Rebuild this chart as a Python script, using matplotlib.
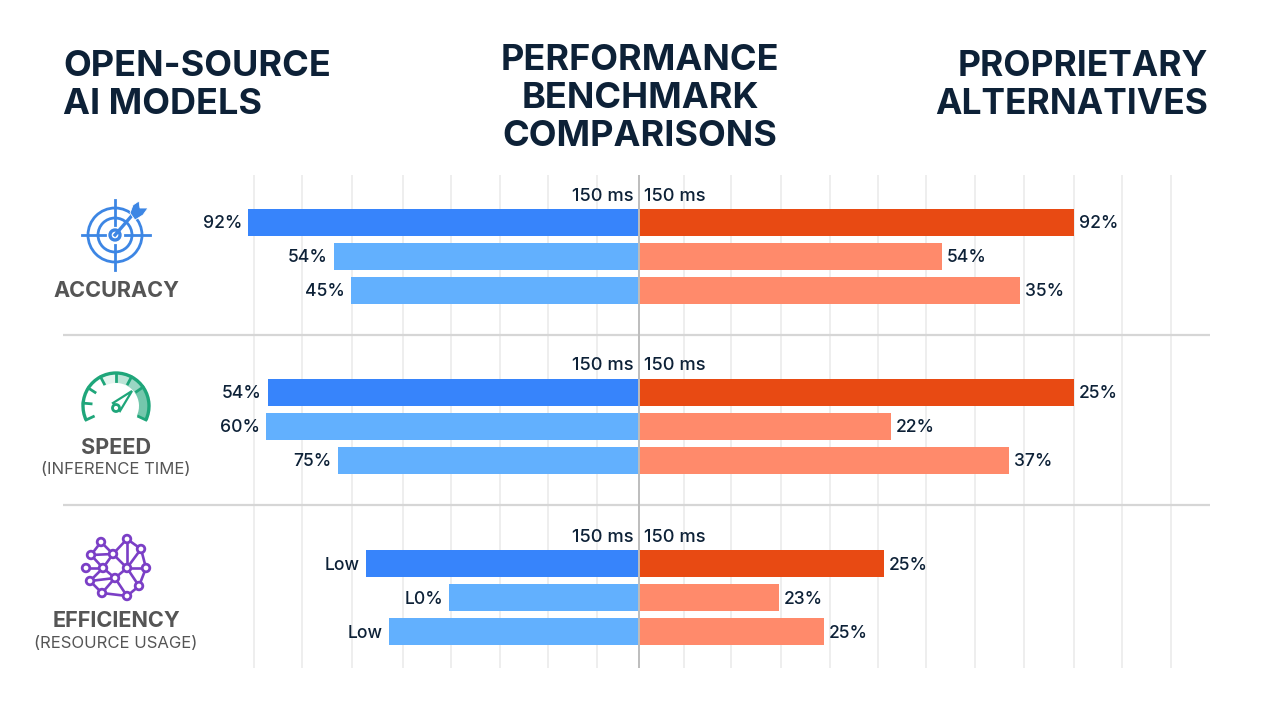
import numpy as np
import matplotlib
matplotlib.use("Agg")
import matplotlib.pyplot as plt
from matplotlib.patches import Circle, Wedge, Arc, Polygon

plt.rcParams['font.family'] = ['Inter', 'DejaVu Sans']

# ---- data (bar lengths, labels as printed) ----
left_len = [391, 305, 288, 371, 373, 301, 273, 190, 250]
right_len = [434, 302, 380, 434, 251, 369, 244, 139, 184]
left_lab = ["92%", "54%", "45%", "54%", "60%", "75%", "Low", "L0%", "Low"]
right_lab = ["92%", "54%", "35%", "25%", "22%", "37%", "25%", "23%", "25%"]
bar_y = [222.5, 256.5, 290.5, 392, 426, 460, 563.5, 597.5, 631.5]
head_y = [195, 364, 536]
head_lab = "150 ms"
left_cols = ["#3784fb", "#62b0fe", "#62b0fe"] * 3
right_cols = ["#e84a13", "#ff8a6b", "#ff8a6b"] * 3
grid_x = [254, 302, 352, 403, 451, 500, 548, 597, 684, 731, 781, 830, 878, 926, 975, 1024, 1074, 1122, 1171]
sep_y = [335, 505]
CX = 639
NAVY = "#0d2137"
GREY = "#555555"

fig = plt.figure(figsize=(12.8, 7.2), dpi=100, facecolor="white")
ax = fig.add_axes([0, 0, 1, 1])
ax.set_xlim(0, 1280)
ax.set_ylim(720, 0)
ax.axis("off")

# grid
ax.vlines(grid_x, 175, 668, color="#ebebeb", lw=1.2, zorder=1)
ax.hlines(sep_y, 63, 1210, color="#d6d6d6", lw=1.6, zorder=1)

# bars
ax.barh(bar_y, [-v for v in left_len], height=27, left=CX, color=left_cols, zorder=2)
ax.barh(bar_y, [v + 1 for v in right_len], height=27, left=CX, color=right_cols, zorder=2)
ax.vlines([CX], 175, 668, color="#bdbdbd", lw=1.4, zorder=3)

# labels
lkw = dict(va="center", fontsize=12.6, color=NAVY, fontweight="medium", zorder=4)
for y, ll, rl, a, b in zip(bar_y, left_len, right_len, left_lab, right_lab):
    ax.text(CX - ll - 6, y + 1.5, a, ha="right", **lkw)
    ax.text(CX + rl + 6, y + 1.5, b, ha="left", **lkw)
hkw = dict(lkw, fontsize=13.2)
for y in head_y:
    ax.text(CX - 5, y + 1.5, head_lab, ha="right", **hkw)
    ax.text(CX + 5, y + 1.5, head_lab, ha="left", **hkw)

# titles
tkw = dict(fontsize=26, fontweight="bold", color=NAVY, va="center")
ax.text(63, 67, "OPEN-SOURCE", ha="left", **tkw)
ax.text(63, 105, "AI MODELS", ha="left", **tkw)
ax.text(640, 61, "PERFORMANCE", ha="center", **tkw)
ax.text(640, 98, "BENCHMARK", ha="center", **tkw)
ax.text(640, 136, "COMPARISONS", ha="center", **tkw)
rkw = dict(tkw, fontsize=25.5)
ax.text(1208, 67, "PROPRIETARY", ha="right", **rkw)
ax.text(1208, 105, "ALTERNATIVES", ha="right", **rkw)

# category labels
ckw = dict(fontsize=15.6, fontweight="bold", color=GREY, ha="center", va="center")
skw = dict(fontsize=12, color=GREY, ha="center", va="center")
ax.text(116, 291, "ACCURACY", **ckw)
ax.text(116, 448, "SPEED", **ckw)
ax.text(116, 470, "(INFERENCE TIME)", **skw)
ax.text(116, 621, "EFFICIENCY", **ckw)
ax.text(116, 644, "(RESOURCE USAGE)", **skw)

# accuracy icon
B = "#3d86e4"
for r, lw in [(27, 2), (17, 2), (5, 2.4)]:
    ax.add_patch(Circle((115, 235), r, fill=False, ec=B, lw=lw, zorder=5))
ax.plot([82, 105], [235, 235], color=B, lw=2, zorder=5)
ax.plot([125, 150], [235, 235], color=B, lw=2, zorder=5)
ax.plot([115, 115], [200, 225], color=B, lw=2, zorder=5)
ax.plot([115, 115], [245, 270], color=B, lw=2, zorder=5)
ax.plot([115, 135], [235, 212], color=B, lw=2.4, zorder=6)
ax.add_patch(Polygon([(130, 213), (133, 205), (139, 201), (140, 208), (148, 208), (143, 215), (135, 220)],
                     fc=B, ec="white", lw=0.6, zorder=7))

# speed icon
G = "#1fa67a"
gc = (116, 406)
for a0, a1, al in [(90, 118, .12), (62, 90, .3), (35, 62, .45), (-25, 35, .62)]:
    ax.add_patch(Wedge(gc, 33, -a1, -a0, width=10, fc=G, alpha=al, ec="none", zorder=4))
ax.add_patch(Arc(gc, 66, 66, theta1=-205, theta2=25, ec=G, lw=2.4, zorder=5))
for a in [205, 175, 147, 118, 90, 62, 35, -25]:
    t = np.radians(a)
    ax.plot([gc[0] + 33 * np.cos(t), gc[0] + 25 * np.cos(t)],
            [gc[1] - 33 * np.sin(t), gc[1] - 25 * np.sin(t)], color=G, lw=2, zorder=5)
ax.add_patch(Polygon([(113, 403), (132, 391), (120, 411)], fc="white", ec=G, lw=1.6, zorder=6))
ax.add_patch(Circle((116, 408), 3.5, fc="white", ec=G, lw=2, zorder=7))

# efficiency icon
P = "#7b3fc6"
nodes = [(101, 542), (127, 539), (141, 549), (91, 555), (113, 554), (86, 568), (103, 568),
         (127, 568), (146, 568), (90, 581), (115, 578), (139, 586), (102, 593), (127, 596)]
edges = [(0, 3), (0, 4), (3, 4), (1, 2), (1, 4), (1, 7), (2, 8), (2, 7), (3, 6), (4, 6), (5, 6), (6, 9), (6, 10),
         (7, 8), (7, 10), (7, 11), (8, 11), (9, 10), (9, 12), (10, 12), (10, 13), (11, 13), (12, 13), (4, 7)]
for i, j in edges:
    ax.plot([nodes[i][0], nodes[j][0]], [nodes[i][1], nodes[j][1]], color=P, lw=1.9, zorder=5)
for n in nodes:
    ax.add_patch(Circle(n, 3.8, fc="white", ec=P, lw=2, zorder=6))

fig.savefig("out.png", dpi=100)
